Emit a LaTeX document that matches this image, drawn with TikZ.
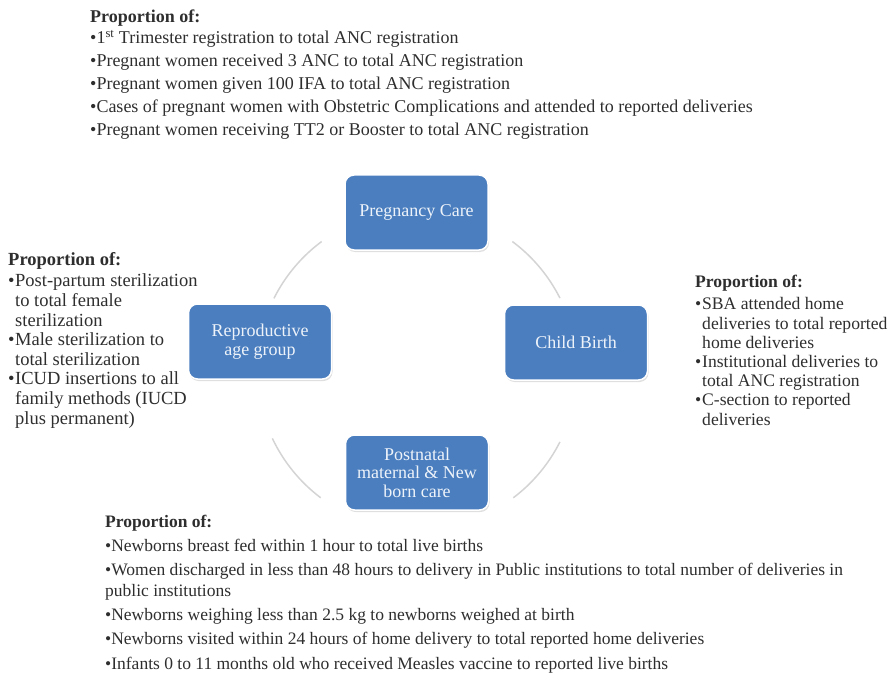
\documentclass[tikz,border=0pt]{standalone}
\usepackage{fontspec}
\setmainfont{Liberation Serif}
\usepackage{xcolor}
\usetikzlibrary{shadows}
\definecolor{boxblue}{HTML}{4A7EBF}
\definecolor{boxtext}{HTML}{EEF3FA}
\definecolor{ringgray}{HTML}{D4D4D4}
\definecolor{inkgray}{HTML}{2E2E2E}
\newcommand{\itembul}{\makebox[7pt][l]{•}}
\newcommand{\contind}{\hspace*{7pt}}

\begin{document}
\begin{tikzpicture}[
  x=1pt,
  y=-1pt,
  stage/.style={draw=white, line width=1.5pt, fill=boxblue, rounded corners=9pt,
    minimum width=143pt, minimum height=75pt, align=center, text=boxtext,
    font=\fontsize{18}{18.5}\selectfont,
    drop shadow={opacity=0.25, shadow xshift=1pt, shadow yshift=-2pt}},
  ring/.style={draw=ringgray, line width=1.5pt},
  notes/.style={anchor=base west, align=left, inner sep=0pt, text=inkgray}
]
  \useasboundingbox (0,0) rectangle (894,679);

  % cycle
  \coordinate (hub) at (417,370);
  \draw[ring] (hub) ++(-126.6:160) arc[start angle=-126.6, end angle=-153.4, radius=160];
  \draw[ring] (hub) ++(-53.4:160) arc[start angle=-53.4, end angle=-26.7, radius=160];
  \draw[ring] (hub) ++(26.7:160) arc[start angle=26.7, end angle=53, radius=160];
  \draw[ring] (hub) ++(127:160) arc[start angle=127, end angle=154.7, radius=160];

  \node[stage] (preg) at (416.5,212.5) {Pregnancy Care};
  \node[stage] (birth) at (576,342.5) {Child Birth};
  \node[stage] (postnatal) at (417,472.5) {Postnatal\\maternal \& New\\born care};
  \node[stage] (repro) at (260,341.5) {Reproductive\\age group};

  % indicator lists (placed by the baseline of their last line)
  \node[notes, font=\fontsize{18}{23}\selectfont] (pregnotes) at (90,136)
    {\textbf{Proportion of:}\\[-2pt]
     •1\textsuperscript{st} Trimester registration to total ANC registration\\
     •Pregnant women received 3 ANC to total ANC registration\\
     •Pregnant women given 100 IFA to total ANC registration\\
     •Cases of pregnant women with Obstetric Complications and attended to reported deliveries\\
     •Pregnant women receiving TT2 or Booster to total ANC registration};

  \node[notes, font=\fontsize{18.5}{19.6}\selectfont] (repronotes) at (8,424)
    {\textbf{Proportion of:}\\[1.4pt]
     \itembul Post-partum sterilization\\
     \contind to total female\\
     \contind sterilization\\
     \itembul Male sterilization to\\
     \contind total sterilization\\
     \itembul ICUD insertions to all\\
     \contind family methods (IUCD\\
     \contind plus permanent)};

  \node[notes, font=\fontsize{17.6}{19.2}\selectfont] (birthnotes) at (695,425)
    {\textbf{Proportion of:}\\[2.8pt]
     \itembul SBA attended home\\
     \contind deliveries to total reported\\
     \contind home deliveries\\
     \itembul Institutional deliveries to\\
     \contind total ANC registration\\
     \itembul C-section to reported\\
     \contind deliveries};

  \node[notes, font=\fontsize{17.5}{21}\selectfont] (postnotes) at (105,669)
    {\textbf{Proportion of:}\\[3pt]
     •Newborns breast fed within 1 hour to total live births\\[3pt]
     •Women discharged in less than 48 hours to delivery in Public institutions to total number of deliveries in\\
     public institutions\\[3pt]
     •Newborns weighing less than 2.5 kg to newborns weighed at birth\\[3pt]
     •Newborns visited within 24 hours of home delivery to total reported home deliveries\\[4pt]
     •Infants 0 to 11 months old who received Measles vaccine to reported live births};
\end{tikzpicture}
\end{document}
